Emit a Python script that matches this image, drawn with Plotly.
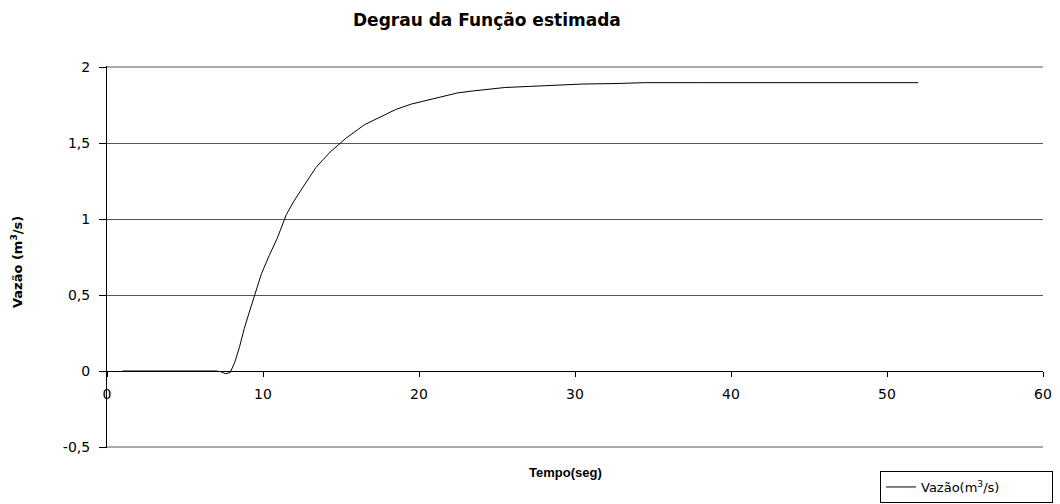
import plotly.graph_objects as go

# Data
tempo = [1, 2, 3, 4, 5, 6, 7, 7.3, 7.6, 7.9, 8.2, 8.5, 8.8, 9.1, 9.5, 9.9,
         10.4, 10.9, 11.5, 12.0, 12.5, 13.4, 14.3, 15.3, 16.5, 17.5, 18.5,
         19.5, 20.5, 21.5, 22.5, 23.5, 24.5, 25.5, 27, 28.5, 30.5, 32.5,
         34.5, 38, 42, 46, 50, 52]
vazao = [0, 0, 0, 0, 0, 0, 0, -0.005, -0.018, -0.01, 0.06, 0.16, 0.28, 0.38,
         0.51, 0.64, 0.76, 0.87, 1.03, 1.12, 1.20, 1.34, 1.44, 1.53, 1.62,
         1.67, 1.72, 1.756, 1.78, 1.807, 1.83, 1.843, 1.855, 1.865, 1.872,
         1.88, 1.888, 1.891, 1.897, 1.897, 1.897, 1.897, 1.897, 1.897]

x_ticks = [0, 10, 20, 30, 40, 50, 60]
y_ticks = [-0.5, 0, 0.5, 1, 1.5, 2]
y_tick_labels = ["-0,5", "0", "0,5", "1", "1,5", "2"]

FONT = "DejaVu Sans, Liberation Sans, Arial, sans-serif"
BOLD_X = "Liberation Sans, Arial, sans-serif"
GRID = "#555555"

# plot area in pixels
L, R, T, B = 107, 1043, 66, 448
W, H = R - L, B - T
pad = 2.5 / 380  # one pixel in data units
y_lo, y_hi = -0.5 - pad, 2 + pad


def px(xp):
    return (xp - L) / W


def py(yp):
    return (B - yp) / H


fig = go.Figure()
fig.add_trace(go.Scatter(
    x=tempo, y=vazao, mode="lines",
    line=dict(color="black", width=1),
    name="Vazão(m<sup>3</sup>/s)",
))

# gridlines at the range ends (Plotly omits them at the plot edges)
for v in (y_ticks[0], y_ticks[-1]):
    fig.add_hline(y=v, line=dict(color=GRID, width=1), layer="below")

fig.update_layout(
    width=1060, height=504,
    margin=dict(l=L, r=1060 - R, t=T, b=504 - B, autoexpand=False),
    paper_bgcolor="white", plot_bgcolor="white",
    font=dict(family=FONT, size=14, color="black"),
    showlegend=True,
    legend=dict(
        x=px(880), y=py(503),
        xanchor="left", yanchor="bottom",
        orientation="h", entrywidth=126,
        bordercolor="black", borderwidth=1,
        font=dict(size=13),
        bgcolor="white",
    ),
    xaxis=dict(
        range=[0, 60], tickvals=x_ticks,
        anchor="free", position=(0 - y_lo) / (y_hi - y_lo),
        showline=True, linecolor="black", linewidth=1,
        ticks="outside", ticklen=5, tickcolor="black",
        ticklabelstandoff=5,
        showgrid=False, zeroline=False,
    ),
    yaxis=dict(
        range=[y_lo, y_hi], tickvals=y_ticks, ticktext=y_tick_labels,
        showline=True, linecolor="black", linewidth=1,
        ticks="outside", ticklen=7, tickcolor="black",
        ticklabelstandoff=6,
        showgrid=True, gridcolor=GRID, gridwidth=1,
        zeroline=False,
    ),
    annotations=[
        dict(text="<b>Degrau da Função estimada</b>", xref="paper", yref="paper",
             x=px(487), y=py(20), xanchor="center", yanchor="middle",
             showarrow=False, font=dict(size=17)),
        dict(text="<b>Tempo(seg)</b>", xref="paper", yref="paper",
             x=px(565), y=py(472), xanchor="center", yanchor="middle",
             showarrow=False, font=dict(family=BOLD_X, size=13)),
        dict(text="<b>Vazão (m<sup>3</sup>/s)</b>", xref="paper", yref="paper",
             x=px(17), y=py(262), xanchor="center", yanchor="middle",
             textangle=-90, showarrow=False, font=dict(size=13)),
    ],
)

fig.write_html("out.html")
